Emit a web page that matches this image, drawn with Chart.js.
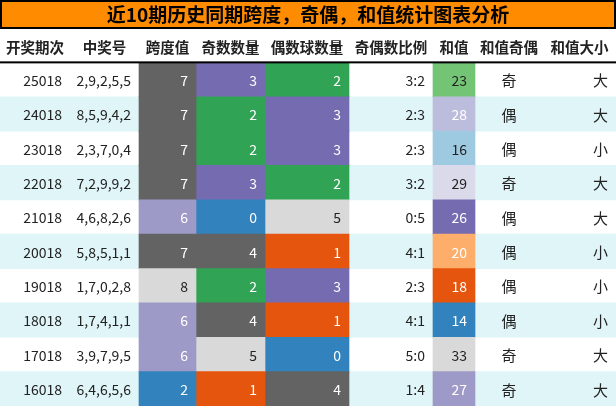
<!DOCTYPE html><html><head><meta charset="utf-8">
<script src="https://cdn.jsdelivr.net/npm/chart.js@4"></script>
<style>html,body{margin:0;padding:0;background:#fff}#w{width:616px;height:406px}</style></head><body>
<div id="w"><canvas id="c"></canvas></div>
<script>
const title = '近10期历史同期跨度，奇偶，和值统计图表分析';
const headers = ['开奖期次','中奖号','跨度值','奇数数量','偶数球数量','奇偶数比例','和值','和值奇偶','和值大小'];
const periods = ['25018','24018','23018','22018','21018','20018','19018','18018','17018','16018'];
const numbers = ['2,9,2,5,5','8,5,9,4,2','2,3,7,0,4','7,2,9,9,2','4,6,8,2,6','5,8,5,1,1','1,7,0,2,8','1,7,4,1,1','3,9,7,9,5','6,4,6,5,6'];
const spans = [7,7,7,7,6,7,8,6,6,2];
const oddCounts = [3,2,2,3,0,4,2,4,5,1];
const evenCounts = [2,3,3,2,5,1,3,1,0,4];
const ratios = ['3:2','2:3','2:3','3:2','0:5','4:1','2:3','4:1','5:0','1:4'];
const sums = [23,28,16,29,26,20,18,14,33,27];
const sumParity = ['奇','偶','偶','奇','偶','偶','偶','偶','奇','奇'];
const sumSize = ['大','大','小','大','大','小','小','小','大','大'];

// layout / style
const edges = [0,70,139,196,265,349,433,475,543,616];
const countColors = {0:'#3182bd',1:'#e6550d',2:'#31a354',3:'#756bb1',4:'#636363',5:'#d9d9d9'};
const spanColors = {2:'#3182bd',6:'#9e9ac8',7:'#636363',8:'#d9d9d9'};
const sumColors = {23:'#74c476',28:'#bcbddc',16:'#9ecae1',29:'#dadaeb',26:'#756bb1',20:'#fdae6b',18:'#e6550d',14:'#3182bd',33:'#d9d9d9',27:'#9e9ac8'};
const darkText = ['#74c476','#9ecae1','#dadaeb','#d9d9d9'];
const rows = ['H'].concat(periods);
const FONT = '"Noto Sans CJK SC", "Liberation Sans", sans-serif';

function cellDs(col, colorFn, vals){
  return {data: periods.map((p,i)=>({x:[edges[col],edges[col+1]], y:p})),
    backgroundColor: vals.map(colorFn), order:1};
}
const stripe = {data: periods.map((p,i)=>({x:[0,616],y:p})),
  backgroundColor: periods.map((p,i)=> i%2===1 ? '#e0f5f8' : 'rgba(0,0,0,0)'), order:2};
const datasets = [stripe,
  cellDs(2, v=>spanColors[v], spans),
  cellDs(3, v=>countColors[v], oddCounts),
  cellDs(4, v=>countColors[v], evenCounts),
  cellDs(6, v=>sumColors[v], sums)];

const textPlugin = {id:'txt',
  beforeDraw(ch){ const c=ch.ctx; c.save();
    c.fillStyle='#ff8c00'; c.fillRect(0,0,616,28);
    c.strokeStyle='#000'; c.lineWidth=2; c.strokeRect(1,1,614,27);
    c.fillStyle='#000'; c.font='bold 19px '+FONT; c.textAlign='center'; c.textBaseline='middle';
    c.fillText(title,308,15); c.restore(); },
  afterDatasetsDraw(ch){
    const c=ch.ctx, ys=ch.scales.y; c.save(); c.textBaseline='middle';
    const hy = ys.getPixelForValue(0);
    c.font='bold 14.5px '+FONT; c.fillStyle='#222'; c.textAlign='center';
    headers.forEach((h,k)=>c.fillText(h,(edges[k]+edges[k+1])/2,hy+2));
    const bottom = (ys.getPixelForValue(0)+ys.getPixelForValue(1))/2;
    c.fillStyle='#000'; c.fillRect(0,bottom-1,616,2);
    c.font='14px '+FONT;
    periods.forEach((p,i)=>{
      const y = ys.getPixelForValue(p)+1;
      const R=(k,t,col)=>{c.textAlign='right';c.fillStyle=col||'#222';c.fillText(String(t),edges[k+1]-8,y);};
      const tc=bg=>darkText.includes(bg)?'#222':'#fff';
      R(0,p); R(1,numbers[i]);
      R(2,spans[i],tc(spanColors[spans[i]]));
      R(3,oddCounts[i],tc(countColors[oddCounts[i]]));
      R(4,evenCounts[i],tc(countColors[evenCounts[i]]));
      R(5,ratios[i]); R(6,sums[i],tc(sumColors[sums[i]]));
      c.textAlign='center'; c.fillStyle='#222'; c.font='15px '+FONT;
      c.fillText(sumParity[i],(edges[7]+edges[8])/2,y);
      c.textAlign='right'; c.fillText(sumSize[i],edges[9]-8,y);
      c.font='14px '+FONT;
    });
    c.restore(); }
};

new Chart(document.getElementById('c'),{type:'bar',
  data:{labels:rows,datasets},
  options:{indexAxis:'y',responsive:true,maintainAspectRatio:false,animation:false,
    layout:{padding:{top:28,left:0,right:0,bottom:0}},
    datasets:{bar:{grouped:false,barPercentage:1,categoryPercentage:1,borderWidth:0,borderSkipped:false}},
    plugins:{legend:{display:false},tooltip:{enabled:false}},
    scales:{x:{type:'linear',min:0,max:616,display:false},
      y:{type:'category',display:false,offset:true}}},
  plugins:[textPlugin]});
</script></body></html>
